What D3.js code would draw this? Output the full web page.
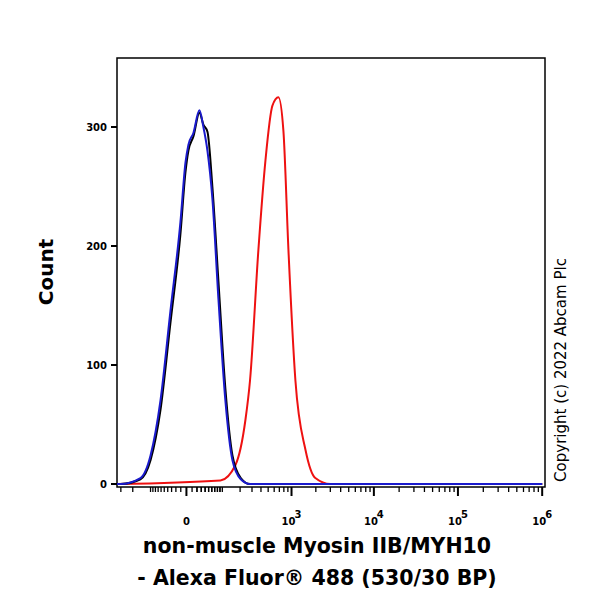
<!DOCTYPE html><html><head><script src="https://cdn.jsdelivr.net/npm/d3@7"></script>
<style>body{margin:0;background:#fff}text{font-family:"DejaVu Sans",Verdana,sans-serif}</style></head><body>
<svg id="c" width="600" height="600"></svg>
<script>
const blueX=[-340,-303,-151,-100,-62,-33,-10.7,-1.6,3.3,12.6,25.6,35.4,46.6,61.9,84,114,151,205,281,1e6];
const blueY=[0,0,5,24,70,145,220,270,285,295,314,300,280,240,155,70,20,4,0,0];
const blackX=[-340,-303,-151,-100,-62,-33,-10.7,-1.6,3.3,12.6,25.6,35.4,46.6,61.9,84,114,151,205,281,1e6];
const blackY=[0,0,4,20,62,135,210,262,280,292,312,302,296,250,170,80,24,5,0,0];
const redX=[-340,92,169,241,281,369,460,569,681,789,914,1119,1489,1972,3006,1e6];
const redY=[0,3,16,54,87,197,272,318,325,297,197,87,29,5,0,0];
const yTicks=[0,100,200,300];
const xMajor=[{v:0,l:"0"},{v:1e3,e:"3"},{v:1e4,e:"4"},{v:1e5,e:"5"},{v:1e6,e:"6"}];

const svg=d3.select("#c");
const L=117,R=545,T=58,B=487;
const x=d3.scaleSymlog().constant(60).domain([-340,1.08e6]).range([L,R]);
const y=d3.scaleLinear().domain([0,358]).range([484,T]);
svg.append("rect").attr("x",L).attr("y",T).attr("width",R-L).attr("height",B-T).attr("fill","none").attr("stroke","#000").attr("stroke-width",1.5);
yTicks.forEach(t=>{
 svg.append("line").attr("x1",L-6).attr("x2",L).attr("y1",y(t)).attr("y2",y(t)).attr("stroke","#000").attr("stroke-width",2);
 svg.append("text").attr("x",L-10).attr("y",y(t)+4).attr("text-anchor","end").attr("font-size",10).attr("font-weight","bold").text(t);
});
const minor=[];
for(let k=1;k<=5;k++)for(let m=2;m<=9;m++)minor.push(m*10**k);
[-300,-200,-100,-90,-80,-70,-60,-50,-40,-30,-20,-10].forEach(v=>minor.push(v));
[10,20,30,40,50,60,70,80,90,100].forEach(v=>minor.push(v));
minor.forEach(v=>{if(x(v)>L&&x(v)<R)svg.append("line").attr("x1",x(v)).attr("x2",x(v)).attr("y1",B).attr("y2",B+5).attr("stroke","#000").attr("stroke-width",1.3);});
xMajor.forEach(t=>{
 svg.append("line").attr("x1",x(t.v)).attr("x2",x(t.v)).attr("y1",B).attr("y2",B+9).attr("stroke","#000").attr("stroke-width",2);
 const tx=svg.append("text").attr("x",x(t.v)).attr("y",B+38).attr("text-anchor","middle").attr("font-size",10).attr("font-weight","bold");
 if(t.l)tx.text(t.l);else{tx.text("10");tx.append("tspan").attr("dy",-7).attr("dx",-1).attr("font-size",10).text(t.e);}
});
const line=d3.line().x(d=>x(d[0])).y(d=>y(d[1])).curve(d3.curveMonotoneX);
[[redX,redY,"#ee1111"],[blackX,blackY,"#000"],[blueX,blueY,"#1a1acc"]].forEach(([X,Y,c])=>{
 svg.append("path").attr("d",line(X.map((v,i)=>[v,Y[i]]))).attr("fill","none").attr("stroke",c).attr("stroke-width",2);
});
svg.append("text").attr("transform","translate(53,272) rotate(-90)").attr("text-anchor","middle").attr("font-size",20).attr("font-weight","bold").text("Count");
svg.append("text").attr("x",317).attr("y",553).attr("text-anchor","middle").attr("font-size",20.5).attr("font-weight","bold").text("non-muscle Myosin IIB/MYH10");
svg.append("text").attr("x",317).attr("y",585).attr("text-anchor","middle").attr("font-size",20.5).attr("font-weight","bold").text("- Alexa Fluor® 488 (530/30 BP)");
svg.append("text").attr("transform","translate(566,370) rotate(-90)").attr("text-anchor","middle").attr("font-size",15).text("Copyright (c) 2022 Abcam Plc");
</script></body></html>
